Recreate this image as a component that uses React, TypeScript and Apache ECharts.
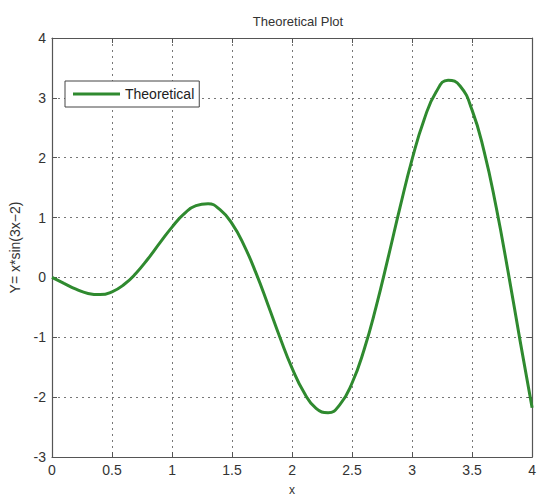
import React, { useEffect, useRef } from "react";
import * as echarts from "echarts";

const xValues = [0, 0.1, 0.2, 0.3, 0.4, 0.5, 0.6, 0.7, 0.8, 0.9, 1.0, 1.1, 1.2, 1.3, 1.4, 1.5, 1.6, 1.7, 1.8, 1.9, 2.0, 2.1, 2.2, 2.3, 2.4, 2.5, 2.6, 2.7, 2.8, 2.9, 3.0, 3.1, 3.2, 3.3, 3.4, 3.5, 3.6, 3.7, 3.8, 3.9, 4.0];
const yValues = [0, -0.099, -0.197, -0.267, -0.287, -0.24, -0.119, 0.07, 0.312, 0.58, 0.841, 1.06, 1.2, 1.23, 1.132, 0.898, 0.536, 0.071, -0.46, -1.007, -1.514, -1.924, -2.186, -2.26, -2.12, -1.764, -1.208, -0.492, 0.326, 1.174, 1.971, 2.636, 3.097, 3.296, 3.198, 2.795, 2.106, 1.18, 0.094, -1.06, -2.176];
const seriesName = "Theoretical";
const titleText = "Theoretical Plot";
const xName = "x";
const yName = "Y= x*sin(3x\u22122)";

const FONT = "Liberation Sans, Arial, sans-serif";

export default function App() {
  const ref = useRef<HTMLDivElement>(null);
  useEffect(() => {
    if (!ref.current) return;
    const chart = echarts.init(ref.current, undefined, { renderer: "svg" });
    const axisLine = { show: true, onZero: false, lineStyle: { color: "#555", width: 1.2 } };
    const tick = { show: true, inside: true, length: 5, lineStyle: { color: "#555" } };
    const split = { show: true, lineStyle: { color: "#777", type: [2, 4] as any, width: 1 } };
    chart.setOption({
      animation: false,
      backgroundColor: "#fff",
      title: {
        text: titleText,
        left: 293,
        top: 10,
        textAlign: "center",
        textStyle: { fontFamily: FONT, fontSize: 13, fontWeight: "normal", color: "#333" },
      },
      legend: {
        data: [seriesName],
        left: 65,
        top: 81,
        orient: "vertical",
        icon: "rect",
        itemWidth: 47,
        itemHeight: 3,
        itemGap: 4,
        padding: [6, 5, 6, 8],
        backgroundColor: "#fff",
        borderColor: "#444",
        borderWidth: 1,
        textStyle: { fontFamily: FONT, fontSize: 14, color: "#222" },
      },
      grid: { left: 49, top: 38, width: 487, height: 426, containLabel: false },
      xAxis: [
        {
          type: "value",
          min: 0,
          max: 4,
          interval: 0.5,
          name: xName,
          nameLocation: "middle",
          nameGap: 27,
          nameTextStyle: { fontFamily: FONT, fontSize: 12, color: "#333" },
          axisLine,
          axisTick: tick,
          axisLabel: { fontFamily: FONT, fontSize: 14, color: "#333", margin: 6 },
          splitLine: split,
        },
        {
          type: "value",
          position: "top",
          min: 0,
          max: 4,
          interval: 0.5,
          axisLine,
          axisTick: tick,
          axisLabel: { show: false },
          splitLine: { show: false },
        },
      ],
      yAxis: [
        {
          type: "value",
          min: -3,
          max: 4,
          interval: 1,
          name: yName,
          nameLocation: "middle",
          nameGap: 30,
          nameRotate: 90,
          nameTextStyle: { fontFamily: FONT, fontSize: 14, color: "#333" },
          axisLine,
          axisTick: tick,
          axisLabel: { fontFamily: FONT, fontSize: 14, color: "#333", margin: 6 },
          splitLine: split,
        },
        {
          type: "value",
          position: "right",
          min: -3,
          max: 4,
          interval: 1,
          axisLine,
          axisTick: tick,
          axisLabel: { show: false },
          splitLine: { show: false },
        },
      ],
      series: [
        {
          name: seriesName,
          type: "line",
          smooth: true,
          showSymbol: false,
          symbol: "none",
          xAxisIndex: 0,
          yAxisIndex: 0,
          data: xValues.map((x, i) => [x, yValues[i]]),
          lineStyle: { color: "#2f8a2f", width: 3 },
          itemStyle: { color: "#2f8a2f" },
        },
      ],
    });
    return () => chart.dispose();
  }, []);
  return <div ref={ref} style={{ width: 539, height: 501, position: "absolute", left: 0, top: 0 }} />;
}
